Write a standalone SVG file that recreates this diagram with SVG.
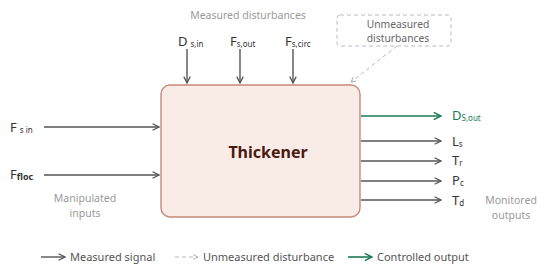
<svg xmlns="http://www.w3.org/2000/svg" width="550" height="272" viewBox="0 0 550 272">
<style>
text{font-family:"Noto Sans","DejaVu Sans",sans-serif}
.lbl{font-size:13px;fill:#333}
.sub{font-size:8px;fill:#333}
.note{font-size:10.5px;fill:#9a9a9a}
.leg{font-size:11px;fill:#555}
.ln{stroke:#555;stroke-width:1.4;fill:none}
.gr{stroke:#1c7a55;stroke-width:1.6;fill:none}
.ds{stroke:#bbb;stroke-width:1;stroke-dasharray:4 3;fill:none}
</style>
<defs>
<marker id="ah" viewBox="0 0 10 10" refX="9" refY="5" markerWidth="8" markerHeight="8" markerUnits="userSpaceOnUse" orient="auto"><path d="M1 1 L9 5 L1 9" fill="none" stroke="#555" stroke-width="1.6"/></marker>
<marker id="ag" viewBox="0 0 10 10" refX="9" refY="5" markerWidth="9" markerHeight="9" markerUnits="userSpaceOnUse" orient="auto"><path d="M1 1 L9 5 L1 9" fill="none" stroke="#1c7a55" stroke-width="1.6"/></marker>
<marker id="ad" viewBox="0 0 10 10" refX="9" refY="5" markerWidth="6" markerHeight="6" markerUnits="userSpaceOnUse" orient="auto"><path d="M1 1 L9 5 L1 9" fill="none" stroke="#aaa" stroke-width="1.6"/></marker>
</defs>
<g id="thickener">
<rect x="161" y="85" width="199" height="132" rx="9" fill="#f9ece6" stroke="#c8897a" stroke-width="1.4"/>
<text x="268" y="158" text-anchor="middle" font-size="16" font-weight="bold" fill="#4a1a10">Thickener</text>
</g>
<g id="unmeasured">
<rect x="337" y="15" width="114" height="31" rx="3" class="ds"/>
<text x="398" y="28" text-anchor="middle" class="note" style="fill:#666;font-size:10.3px">Unmeasured</text>
<text x="398" y="42" text-anchor="middle" class="note" style="fill:#666;font-size:10.3px">disturbances</text>
</g>
<g id="labels">
<text x="248" y="19" text-anchor="middle" class="note">Measured disturbances</text>
<text x="178" y="46" class="lbl">D<tspan class="sub" dx="3" dy="1">s,in</tspan></text>
<text x="230" y="46" class="lbl">F<tspan class="sub" dy="1">s,out</tspan></text>
<text x="285" y="46" class="lbl">F<tspan class="sub" dy="1">s,circ</tspan></text>
<text x="10" y="132" class="lbl">F<tspan class="sub" dx="3" dy="1">s in</tspan></text>
<text x="10" y="179" class="lbl">F<tspan class="sub" dy="1" font-weight="bold" style="font-size:9px">floc</tspan></text>
<text x="85" y="202" text-anchor="middle" class="note">Manipulated</text>
<text x="85" y="217" text-anchor="middle" class="note">inputs</text>
<text x="452" y="120" class="lbl" style="fill:#1c7a55">D<tspan class="sub" dy="1" style="fill:#1c7a55">S,out</tspan></text>
<text x="452" y="146" class="lbl">L<tspan class="sub" dy="1">s</tspan></text>
<text x="452" y="165" class="lbl">T<tspan class="sub" dy="1">r</tspan></text>
<text x="452" y="185" class="lbl">P<tspan class="sub" dy="1">c</tspan></text>
<text x="452" y="205" class="lbl">T<tspan class="sub" dy="1">d</tspan></text>
<text x="511" y="204" text-anchor="middle" class="note">Monitored</text>
<text x="511" y="219" text-anchor="middle" class="note">outputs</text>
</g>
<g id="connectors">
<line x1="187" y1="49" x2="187" y2="83" class="ln" marker-end="url(#ah)"/>
<line x1="240" y1="49" x2="240" y2="83" class="ln" marker-end="url(#ah)"/>
<line x1="293" y1="49" x2="293" y2="83" class="ln" marker-end="url(#ah)"/>
<line x1="397" y1="46" x2="351" y2="82" class="ds" marker-end="url(#ad)"/>
<line x1="44" y1="127" x2="159" y2="127" class="ln" marker-end="url(#ah)"/>
<line x1="44" y1="175" x2="159" y2="175" class="ln" marker-end="url(#ah)"/>
<line x1="361" y1="116" x2="441" y2="116" class="gr" marker-end="url(#ag)"/>
<line x1="361" y1="141" x2="441" y2="141" class="ln" marker-end="url(#ah)"/>
<line x1="361" y1="161" x2="441" y2="161" class="ln" marker-end="url(#ah)"/>
<line x1="361" y1="181" x2="441" y2="181" class="ln" marker-end="url(#ah)"/>
<line x1="361" y1="200" x2="441" y2="200" class="ln" marker-end="url(#ah)"/>
</g>
<g id="legend">
<line x1="41" y1="257" x2="65" y2="257" class="ln" marker-end="url(#ah)"/>
<text x="70" y="261" class="leg">Measured signal</text>
<line x1="175" y1="257" x2="198" y2="257" class="ds" marker-end="url(#ad)"/>
<text x="203" y="261" class="leg">Unmeasured disturbance</text>
<line x1="348" y1="257" x2="372" y2="257" class="gr" marker-end="url(#ag)"/>
<text x="377" y="261" class="leg">Controlled output</text>
</g>
</svg>
